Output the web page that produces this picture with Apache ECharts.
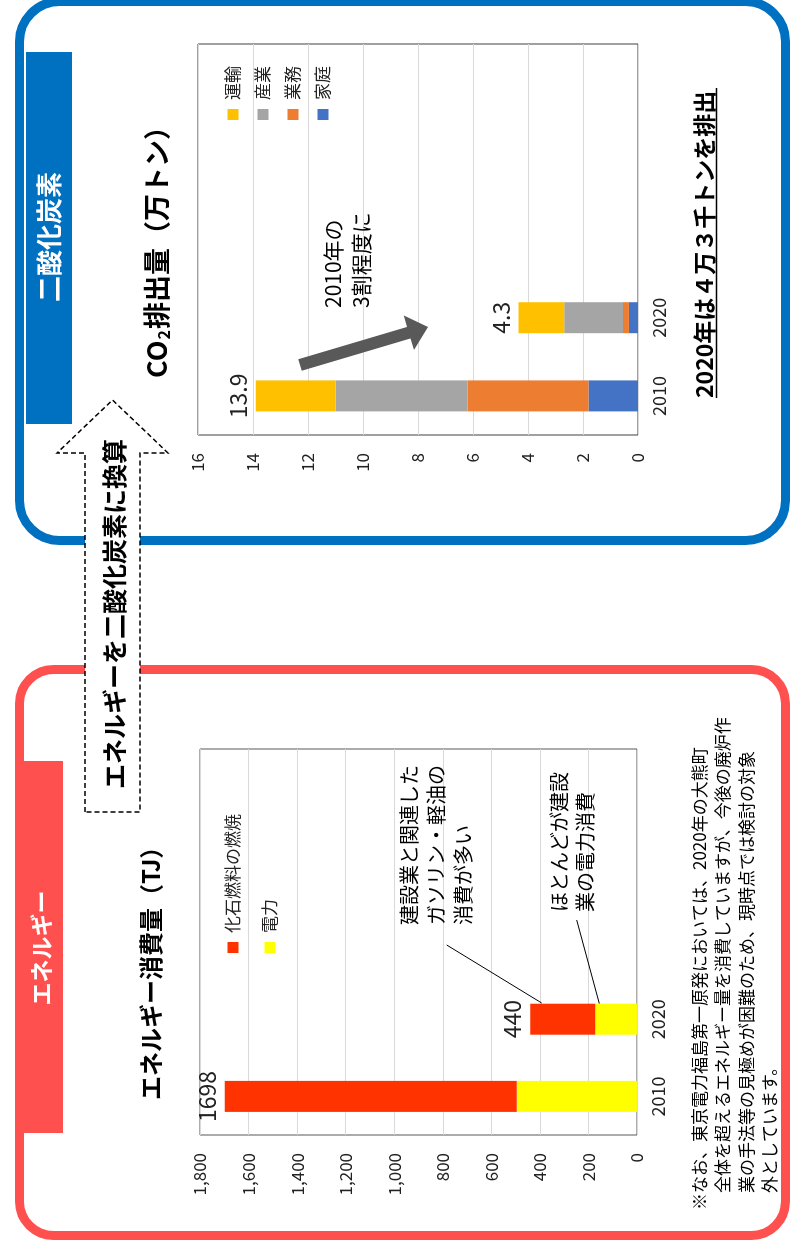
<!DOCTYPE html>
<html><head><meta charset="utf-8">
<script src="https://cdn.jsdelivr.net/npm/echarts@6/dist/echarts.min.js"></script>
<style>
html,body{margin:0;padding:0;background:#fff;overflow:hidden;width:790px;height:1247px;}
#wrap{position:absolute;left:0;top:0;width:1247px;height:790px;transform-origin:0 0;transform:translateY(1247px) rotate(-90deg);}
#chart{width:1247px;height:790px;}
</style></head><body><div id="wrap"><div id="chart"></div></div>
<script>
// ---- data ----
const categories = ['2010', '2020', '', '', ''];
const energyNames = ['化石燃料の燃焼', '電力'];
const energyFossil = [1203, 268];
const energyElec = [495, 172];
const energyTotals = [1698, 440];
const energyAxis = { min: 0, max: 1800, step: 200 };
const co2Names = ['運輸', '産業', '業務', '家庭'];
const co2Transport = [2.9, 1.67];
const co2Industry = [4.8, 2.13];
const co2Business = [4.4, 0.22];
const co2Home = [1.8, 0.33];
const co2Totals = [13.9, 4.3];
const co2Axis = { min: 0, max: 16, step: 2 };

const FONT = '"Noto Sans CJK JP", "Noto Sans", sans-serif';
const RED = '#FF5050', BLUE = '#0070C0';

function arrowPts(tx, ty, px, py, headLen, headHalf, shaftHalf) {
  const dx = px - tx, dy = py - ty, L = Math.hypot(dx, dy), ux = dx / L, uy = dy / L, nx = -uy, ny = ux;
  const bx = px - ux * headLen, by = py - uy * headLen;
  return [[tx + nx * shaftHalf, ty + ny * shaftHalf], [bx + nx * shaftHalf, by + ny * shaftHalf],
    [bx + nx * headHalf, by + ny * headHalf], [px, py], [bx - nx * headHalf, by - ny * headHalf],
    [bx - nx * shaftHalf, by - ny * shaftHalf], [tx - nx * shaftHalf, ty - ny * shaftHalf]];
}

const chart = echarts.init(document.getElementById('chart'), null, { renderer: 'canvas' });

function catAxis(gi) {
  return {
    type: 'category', gridIndex: gi, data: categories,
    axisLine: { show: false }, axisTick: { show: false },
    axisLabel: { fontSize: 18, color: '#222', fontFamily: FONT, margin: 12 }
  };
}
function valAxis(gi, ax, fmt) {
  return {
    type: 'value', gridIndex: gi, min: ax.min, max: ax.max, interval: ax.step,
    axisLine: { show: false }, axisTick: { show: false },
    splitLine: { lineStyle: { color: '#D9D9D9' } },
    axisLabel: { fontSize: 17, color: '#222', fontFamily: FONT, margin: 18, formatter: fmt }
  };
}
const labelStyle = (totals) => ({
  show: true, position: 'top', distance: 6, fontSize: 23, color: '#222', fontFamily: FONT,
  formatter: p => String(totals[p.dataIndex])
});

const option = {
  animation: false,
  backgroundColor: '#fff',
  grid: [
    { left: 112, right: 1247 - 498, top: 200, bottom: 790 - 637, show: true, borderColor: '#595959', borderWidth: 1, backgroundColor: 'transparent' },
    { left: 812, right: 1247 - 1203, top: 198, bottom: 790 - 638, show: true, borderColor: '#404040', borderWidth: 1, backgroundColor: 'transparent' }
  ],
  xAxis: [catAxis(0), catAxis(1)],
  yAxis: [
    valAxis(0, energyAxis, v => v.toLocaleString('en-US')),
    valAxis(1, co2Axis, v => String(v))
  ],
  legend: [
    { data: energyNames, orient: 'vertical', left: 289, top: 218, itemWidth: 11, itemHeight: 11, itemGap: 17, icon: 'rect',
      textStyle: { fontSize: 17, lineHeight: 20, color: '#222', fontFamily: FONT, padding: [0, 0, 0, 4] } },
    { data: co2Names, orient: 'vertical', left: 1122, top: 218, itemWidth: 11, itemHeight: 11, itemGap: 10, icon: 'rect',
      textStyle: { fontSize: 17, lineHeight: 20, color: '#222', fontFamily: FONT, padding: [0, 0, 0, 4] } }
  ],
  series: [
    { name: '電力', type: 'bar', stack: 'e', xAxisIndex: 0, yAxisIndex: 0, barWidth: 31, data: energyElec, itemStyle: { color: '#FFFF00' } },
    { name: '化石燃料の燃焼', type: 'bar', stack: 'e', xAxisIndex: 0, yAxisIndex: 0, barWidth: 31, data: energyFossil, itemStyle: { color: '#FF3300' }, label: labelStyle(energyTotals) },
    { name: '家庭', type: 'bar', stack: 'c', xAxisIndex: 1, yAxisIndex: 1, barWidth: 31, data: co2Home, itemStyle: { color: '#4472C4' } },
    { name: '業務', type: 'bar', stack: 'c', xAxisIndex: 1, yAxisIndex: 1, barWidth: 31, data: co2Business, itemStyle: { color: '#ED7D31' } },
    { name: '産業', type: 'bar', stack: 'c', xAxisIndex: 1, yAxisIndex: 1, barWidth: 31, data: co2Industry, itemStyle: { color: '#A5A5A5' } },
    { name: '運輸', type: 'bar', stack: 'c', xAxisIndex: 1, yAxisIndex: 1, barWidth: 31, data: co2Transport, itemStyle: { color: '#FFC000' }, label: labelStyle(co2Totals) }
  ],
  graphic: [
    // panels
    { type: 'rect', z: -5, shape: { x: 11.5, y: 19.5, width: 566, height: 766, r: 34 }, style: { fill: '#fff', stroke: RED, lineWidth: 9 } },
    { type: 'rect', z: -5, shape: { x: 706.5, y: 19.5, width: 539, height: 766, r: 40 }, style: { fill: '#fff', stroke: BLUE, lineWidth: 9 } },
    // tabs
    { type: 'rect', z: -4, shape: { x: 114, y: 15, width: 372, height: 48 }, style: { fill: RED } },
    { type: 'rect', z: -4, shape: { x: 823, y: 26, width: 372, height: 46 }, style: { fill: BLUE } },
    { type: 'text', z: 5, x: 299, y: 41, style: { text: 'エネルギー', fill: '#fff', font: 'bold 23px ' + FONT, align: 'center', verticalAlign: 'middle' } },
    { type: 'text', z: 5, x: 1010, y: 49, style: { text: '二酸化炭素', fill: '#fff', font: 'bold 26px ' + FONT, align: 'center', verticalAlign: 'middle' } },
    // titles
    { type: 'text', z: 5, x: 147, y: 151, style: { text: 'エネルギー消費量（TJ）', fill: '#000', font: 'bold 24px ' + FONT, verticalAlign: 'middle' } },
    { type: 'text', z: 5, x: 869, y: 157, style: {
      text: '{a|CO}{b|2}{a|排出量（万トン）}', verticalAlign: 'middle',
      rich: { a: { fontSize: 27, fontWeight: 'bold', fontFamily: FONT, fill: '#000', lineHeight: 34 },
              b: { fontSize: 16, fontWeight: 'bold', fontFamily: FONT, fill: '#000', lineHeight: 34, padding: [13, 1, 0, 1] } } } },
    // energy annotations
    { type: 'text', z: 5, x: 322, y: 395.5, style: { text: '建設業と関連した\nガソリン・軽油の\n消費が多い', fill: '#000', font: '20px ' + FONT, lineHeight: 27 } },
    { type: 'text', z: 5, x: 335, y: 546, style: { text: 'ほとんどが建設\n業の電力消費', fill: '#000', font: '20px ' + FONT, lineHeight: 26 } },
    { type: 'line', z: 5, shape: { x1: 302, y1: 446.7, x2: 244, y2: 541.7 }, style: { stroke: '#000', lineWidth: 1 } },
    { type: 'line', z: 5, shape: { x1: 327, y1: 576.7, x2: 243.5, y2: 599.3 }, style: { stroke: '#000', lineWidth: 1 } },
    // co2 annotation
    { type: 'text', z: 5, x: 939, y: 319, style: { text: '2010年の\n3割程度に', fill: '#000', font: '21px ' + FONT, lineHeight: 28 } },
    { type: 'polygon', z: 5, shape: { points: arrowPts(882, 300, 920, 428, 20, 18, 6) }, style: { fill: '#595959' } },
    // bold summary
    { type: 'text', z: 5, x: 849, y: 704, style: { text: '2020年は４万３千トンを排出', fill: '#000', font: 'bold 23px ' + FONT, verticalAlign: 'middle' } },
    { type: 'line', z: 5, shape: { x1: 849, y1: 716.5, x2: 1159, y2: 716.5 }, style: { stroke: '#000', lineWidth: 1.5 } },
    // footnote
    { type: 'text', z: 5, x: 37, y: 688, style: {
      text: '※なお、東京電力福島第一原発においては、2020年の大熊町\n　全体を超えるエネルギー量を消費していますが、今後の廃炉作\n　業の手法等の見極めが困難のため、現時点では検討の対象\n　外としています。',
      fill: '#000', font: '17px ' + FONT, lineHeight: 23.3 } },
    // dashed conversion arrow
    { type: 'polygon', z: 10, shape: { points: [[435, 85], [794, 85], [794, 57], [847, 112.5], [794, 168], [794, 140], [435, 140]] },
      style: { fill: '#fff', stroke: '#000', lineWidth: 1.5, lineDash: [5, 3] } },
    { type: 'text', z: 11, x: 633, y: 114, style: { text: 'エネルギーを二酸化炭素に換算', fill: '#000', font: 'bold 25px ' + FONT, align: 'center', verticalAlign: 'middle' } }
  ]
};
chart.setOption(option);
</script></body></html>
